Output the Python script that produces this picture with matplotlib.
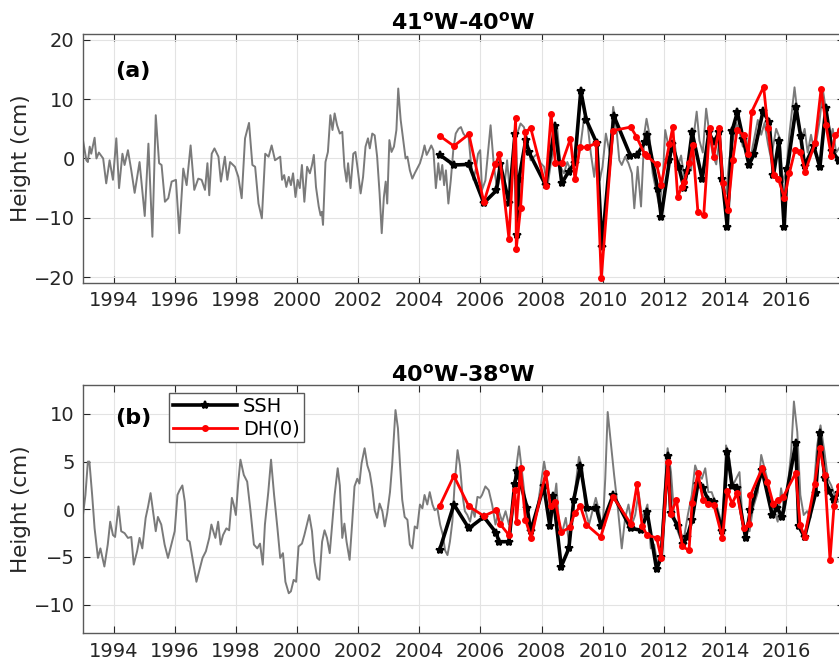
import matplotlib
matplotlib.use("Agg")
import matplotlib.pyplot as plt

plt.rcParams["font.family"] = ["DejaVu Sans"]
plt.rcParams["mathtext.fontset"] = "dejavusans"

# ---------------- panel (a) 41W-40W ----------------
alt_a_t = [1993.00, 1993.11, 1993.16, 1993.22, 1993.27, 1993.38, 1993.44, 1993.52, 1993.66, 1993.76,
           1993.87, 1993.98, 1994.09, 1994.18, 1994.29, 1994.36, 1994.47, 1994.58, 1994.69, 1994.85,
           1995.02, 1995.14, 1995.27, 1995.38, 1995.49, 1995.57, 1995.68, 1995.79, 1995.90, 1996.04,
           1996.15, 1996.28, 1996.39, 1996.52, 1996.64, 1996.77, 1996.88, 1996.99, 1997.07, 1997.13,
           1997.21, 1997.30, 1997.43, 1997.51, 1997.64, 1997.72, 1997.81, 1997.97, 1998.08, 1998.19,
           1998.30, 1998.43, 1998.54, 1998.63, 1998.74, 1998.85, 1998.96, 1999.07, 1999.17, 1999.28,
           1999.45, 1999.51, 1999.58, 1999.65, 1999.73, 1999.80, 1999.87, 1999.95, 2000.02, 2000.09,
           2000.16, 2000.24, 2000.33, 2000.42, 2000.49, 2000.55, 2000.62, 2000.71, 2000.77, 2000.81,
           2000.85, 2000.93, 2001.01, 2001.09, 2001.16, 2001.23, 2001.31, 2001.40, 2001.48, 2001.55,
           2001.62, 2001.67, 2001.75, 2001.84, 2001.91, 2001.99, 2002.08, 2002.16, 2002.24, 2002.32,
           2002.38, 2002.46, 2002.54, 2002.62, 2002.70, 2002.77, 2002.84, 2002.90, 2002.95, 2003.02,
           2003.09, 2003.17, 2003.25, 2003.31, 2003.39, 2003.46, 2003.55, 2003.61, 2003.69, 2003.77,
           2003.85, 2003.93, 2004.02, 2004.10, 2004.17, 2004.24, 2004.32, 2004.39, 2004.46, 2004.54,
           2004.62, 2004.68, 2004.75, 2004.81, 2004.87, 2004.95, 2005.03, 2005.11, 2005.19, 2005.28,
           2005.36, 2005.44, 2005.52, 2005.60, 2005.68, 2005.77, 2005.85, 2005.92, 2005.99,
           2006.05, 2006.16, 2006.33, 2006.44, 2006.55, 2006.66, 2006.77, 2006.87, 2006.98, 2007.09,
           2007.20, 2007.31, 2007.42, 2007.53, 2007.64, 2007.75, 2007.86, 2007.97, 2008.08, 2008.19,
           2008.30, 2008.40, 2008.51, 2008.62, 2008.73, 2008.84, 2008.95, 2009.06, 2009.17, 2009.28,
           2009.39, 2009.50, 2009.61, 2009.72, 2009.83, 2009.90, 2009.99, 2010.10, 2010.23, 2010.34,
           2010.45, 2010.54, 2010.62, 2010.73, 2010.84, 2010.95, 2011.03, 2011.14, 2011.25, 2011.36,
           2011.43, 2011.52, 2011.63, 2011.74, 2011.85, 2011.96, 2012.04,
           2012.12, 2012.23, 2012.34, 2012.45, 2012.56, 2012.67, 2012.78, 2012.89, 2013.00, 2013.07,
           2013.16, 2013.27, 2013.38, 2013.49, 2013.60, 2013.71, 2013.81, 2013.92, 2014.03, 2014.14,
           2014.25, 2014.36, 2014.47, 2014.58, 2014.69, 2014.80, 2014.90, 2015.07, 2015.18, 2015.29,
           2015.40, 2015.50, 2015.67, 2015.78, 2015.89, 2016.00, 2016.10, 2016.27, 2016.38, 2016.49,
           2016.60, 2016.70, 2016.81, 2016.92, 2017.08, 2017.20, 2017.30, 2017.41, 2017.52, 2017.63,
           2017.76]
alt_a = [3.1, -0.3, -0.6, 2.0, 0.8, 3.5, 0.0, 1.0, 0.0, -4.2,
         -0.3, -3.6, 3.4, -5.0, 0.8, -1.1, 1.4, -2.0, -5.8, -0.6,
         -9.7, 2.5, -13.2, 7.3, -0.8, -1.1, -7.3, -6.7, -3.9, -3.6,
         -12.6, -1.7, -4.5, 2.2, -5.3, -3.4, -3.6, -5.3, -0.8, -6.2,
         0.8, 1.7, 0.3, -3.9, 0.3, -3.6, -0.6, -1.4, -3.1, -6.7,
         3.4, 6.0, -1.1, -1.4, -7.6, -10.1, 0.8, 0.3, 2.2, -0.3,
         0.3, -3.6, -2.8, -4.8, -3.1, -4.5, -2.5, -6.5, -3.6, -5.0,
         -1.1, -7.3, -1.4, -2.5, -1.1, 0.6, -4.8, -8.1, -9.6, -9.0,
         -11.2, -0.6, 1.1, 7.3, 4.8, 7.6, 5.6, 4.2, 4.5, -1.4,
         -3.9, -0.8, -5.0, 0.8, 1.1, -2.0, -5.9, -3.1, 2.0, 3.4,
         1.7, 4.2, 3.9, 0.3, -5.9, -12.6, -6.5, -3.9, -7.6, 3.1,
         1.1, 2.0, 4.8, 11.8, 6.5, 3.7, 0.0, 0.3, -2.0, -3.4,
         -2.5, -1.7, -0.8, 0.6, 2.2, 0.6, 1.4, 2.2, 1.4, -5.0,
         -0.8, -3.6, -1.1, -4.5, -2.0, -7.6, -3.6, 1.4, 4.2, 5.0,
         5.3, 4.2, 3.7, 4.2, -0.3, -3.6, -1.7, 0.8, 1.4,
         -5.3, -3.7, 5.6, -1.4, -5.3, -2.5, -5.3, -0.3, -7.0, 2.5,
         4.2, 5.9, 5.3, 3.1, -0.3, 0.3, 0.8, -0.8, -1.4, -4.8,
         -0.8, 1.4, 5.1, -1.4, -2.5, -0.6, -2.0, 0.3, -0.8, 2.5,
         7.0, 5.9, 0.8, -3.1, 2.5, -3.7, -1.4, 4.2, 0.8, 8.7,
         4.8, -0.3, -1.1, 0.3, -0.8, -2.5, -8.4, -1.4, -8.1, 4.2,
         6.7, 4.2, -2.5, -5.3, -8.1, -3.7, 4.8,
         2.8, 1.0, 3.0, -1.5, 0.5, -3.5, -1.0, -2.0, 5.0, 7.9,
         3.0, 1.0, 8.4, 4.0, 0.5, -1.0, 3.0, -5.0, -6.0, 0.0,
         3.0, 6.0, 4.5, 2.0, 3.5, -1.0, 2.0, 6.5, 4.0, 6.0,
         2.5, 0.0, 5.0, 3.5, -4.0, -2.0, 4.0, 12.0, 7.0, 3.0,
         5.0, 1.0, 4.0, 1.0, 6.0, 11.5, 8.0, 3.0, 5.0, 1.0,
         2.0]

ssh_a_t = [2004.67, 2005.13, 2005.62, 2006.11, 2006.52, 2006.65, 2006.93, 2007.13, 2007.20, 2007.26,
           2007.48, 2007.58, 2008.13, 2008.43, 2008.66, 2008.88, 2009.08, 2009.28, 2009.46, 2009.80,
           2009.97, 2010.36, 2010.90, 2011.12, 2011.37, 2011.46, 2011.80, 2011.91, 2012.18, 2012.26,
           2012.49, 2012.65, 2012.76, 2012.92, 2013.25, 2013.47, 2013.63, 2013.80, 2013.91, 2014.07,
           2014.23, 2014.40, 2014.59, 2014.78, 2014.94, 2015.24, 2015.44, 2015.58, 2015.76, 2015.93,
           2016.03, 2016.32, 2016.47, 2016.60, 2016.90, 2017.10, 2017.29, 2017.50, 2017.72]
ssh_a = [0.6, -1.1, -1.0, -7.5, -5.4, -1.0, -7.5, 4.2, -12.9, -3.4,
         3.1, 1.1, -4.5, 5.4, -4.2, -2.2, -0.8, 11.4, 6.5, 2.6,
         -15.0, 7.2, 0.5, 0.6, 2.7, 3.9, -5.2, -9.8, -0.3, 2.5,
         -1.5, -4.9, -2.1, 4.4, -3.5, 4.4, 2.7, 4.4, -3.5, -11.5,
         4.7, 7.8, 3.3, -1.1, 0.7, 8.0, 6.1, -2.8, 3.0, -11.5,
         -1.8, 8.6, 3.8, -1.2, 2.1, -1.5, 8.5, 1.3, -0.4]

dh_a_t = [2004.67, 2005.13, 2005.62, 2006.11, 2006.49, 2006.62, 2006.93, 2007.15, 2007.17, 2007.31,
          2007.47, 2007.64, 2008.13, 2008.31, 2008.45, 2008.67, 2008.94, 2009.09, 2009.25, 2009.49,
          2009.78, 2009.95, 2010.33, 2010.91, 2011.10, 2011.37, 2011.45, 2011.76, 2011.91, 2012.18,
          2012.29, 2012.45, 2012.58, 2012.67, 2012.83, 2012.94, 2013.11, 2013.30, 2013.49, 2013.63,
          2013.81, 2013.92, 2014.09, 2014.25, 2014.39, 2014.61, 2014.76, 2014.87, 2015.26, 2015.40,
          2015.59, 2015.74, 2015.94, 2016.10, 2016.29, 2016.46, 2016.62, 2016.94, 2017.14, 2017.30,
          2017.47, 2017.60, 2017.76]
dh_a = [3.8, 2.1, 4.1, -7.4, -1.0, 0.7, -13.5, 6.9, -15.2, -8.4,
        4.4, 5.2, -4.7, 7.5, -0.8, -0.7, 3.3, -3.5, 1.9, 1.9,
        2.6, -20.2, 4.7, 5.3, 3.7, 0.7, 0.4, -1.0, -4.4, 2.5,
        5.3, -6.5, -4.8, -3.9, -0.8, 2.2, -9.0, -9.6, 5.1, 0.3,
        5.2, -4.2, -8.7, -0.3, 4.8, 3.9, 0.8, 7.9, 12.1, 5.1,
        -2.8, -3.4, -6.7, -2.5, 1.5, 1.1, -2.2, 2.6, 11.8, 5.6,
        0.4, 3.9, 4.8]

# ---------------- panel (b) 40W-38W ----------------
alt_b_t = [1993.00, 1993.08, 1993.16, 1993.21, 1993.30, 1993.38, 1993.49, 1993.57, 1993.70, 1993.81,
           1993.89, 1993.98, 1994.05, 1994.16, 1994.25, 1994.36, 1994.47, 1994.58, 1994.66, 1994.77,
           1994.85, 1994.94, 1995.05, 1995.13, 1995.21, 1995.29, 1995.38, 1995.45, 1995.56, 1995.67,
           1995.78, 1995.89, 1996.00, 1996.09, 1996.16, 1996.25, 1996.33, 1996.41, 1996.49, 1996.60,
           1996.71, 1996.82, 1996.91, 1997.02, 1997.13, 1997.20, 1997.28, 1997.33, 1997.42, 1997.50,
           1997.58, 1997.69, 1997.78, 1997.87, 1997.93, 1998.00, 1998.08, 1998.15, 1998.26, 1998.37,
           1998.48, 1998.59, 1998.70, 1998.79, 1998.88, 1998.95, 1999.06, 1999.15, 1999.25, 1999.36,
           1999.45, 1999.54, 1999.62, 1999.73, 1999.80, 1999.89, 1999.97, 2000.05, 2000.16, 2000.24,
           2000.33, 2000.40, 2000.49, 2000.57, 2000.66, 2000.73, 2000.82, 2000.90, 2000.98, 2001.07,
           2001.15, 2001.23, 2001.33, 2001.40, 2001.48, 2001.55, 2001.62, 2001.72, 2001.80, 2001.88,
           2001.97, 2002.04, 2002.11, 2002.21, 2002.30, 2002.38, 2002.46, 2002.54, 2002.62, 2002.70,
           2002.79, 2002.87, 2002.95, 2003.04, 2003.11, 2003.22, 2003.30, 2003.37, 2003.44, 2003.52,
           2003.61, 2003.69, 2003.77, 2003.85, 2003.93, 2004.02, 2004.10, 2004.17, 2004.26, 2004.34,
           2004.43, 2004.50, 2004.59, 2004.68, 2004.77, 2004.84, 2004.92, 2005.00, 2005.08, 2005.16,
           2005.25, 2005.33, 2005.41, 2005.49, 2005.57, 2005.66, 2005.74, 2005.81, 2005.90, 2005.99,
           2006.05, 2006.16, 2006.27, 2006.38, 2006.49, 2006.60, 2006.71, 2006.82, 2006.93, 2007.04,
           2007.15, 2007.26, 2007.37, 2007.48, 2007.58, 2007.69, 2007.80, 2007.91, 2008.08, 2008.19,
           2008.30, 2008.40, 2008.48, 2008.57, 2008.68, 2008.79, 2008.90, 2009.01, 2009.11, 2009.22,
           2009.33, 2009.44, 2009.55, 2009.66, 2009.77, 2009.88, 2009.99, 2010.08, 2010.16, 2010.26,
           2010.37, 2010.48, 2010.62, 2010.73, 2010.84, 2010.95, 2011.06, 2011.17, 2011.28, 2011.39,
           2011.46, 2011.57, 2011.68, 2011.79, 2011.90, 2012.01,
           2012.12, 2012.23, 2012.34, 2012.45, 2012.58, 2012.67, 2012.78, 2012.91, 2013.02, 2013.13,
           2013.24, 2013.35, 2013.45, 2013.56, 2013.67, 2013.78, 2013.92, 2014.03, 2014.14, 2014.25,
           2014.36, 2014.47, 2014.58, 2014.69, 2014.80, 2014.91, 2015.07, 2015.18, 2015.29, 2015.40,
           2015.50, 2015.61, 2015.72, 2015.83, 2015.94, 2016.05, 2016.16, 2016.25, 2016.36, 2016.46,
           2016.57, 2016.68, 2016.79, 2016.90, 2017.01, 2017.12, 2017.25, 2017.36, 2017.47, 2017.58,
           2017.69]
alt_b = [-0.6, 1.5, 5.0, 5.0, 1.5, -2.0, -5.1, -4.1, -6.0, -3.7,
         -1.3, -2.7, -2.9, 0.3, -2.3, -2.5, -3.0, -2.9, -5.8, -4.4,
         -3.0, -4.1, -0.9, 0.3, 1.7, -0.2, -2.3, -0.8, -1.6, -3.7,
         -5.1, -3.7, -2.3, 1.5, 2.0, 2.5, 0.8, -3.2, -3.4, -5.5,
         -7.6, -6.2, -5.1, -4.4, -3.0, -1.6, -2.5, -3.0, -1.3, -3.7,
         -2.7, -2.0, -2.2, 1.2, 0.5, -0.6, 2.9, 5.2, 3.6, 2.9,
         -0.2, -3.7, -4.1, -3.6, -5.8, -1.6, 1.8, 5.2, 1.5, -2.0,
         -5.1, -4.6, -7.6, -8.8, -8.6, -7.4, -7.6, -3.9, -3.6, -2.7,
         -1.5, -0.6, -2.3, -5.5, -7.2, -7.4, -3.4, -2.2, -3.0, -4.6,
         -1.6, 1.5, 4.3, 2.5, -3.0, -1.5, -3.4, -5.3, -1.6, 2.4,
         3.2, 2.7, 4.8, 6.4, 4.6, 3.8, 2.2, -0.1, -0.9, 0.6,
         -0.2, -1.8, -0.4, 1.8, 4.6, 10.4, 8.5, 4.6, 1.0, -0.8,
         -1.1, -3.7, -4.1, -1.8, -2.0, 0.5, 0.1, 1.5, 0.5, 1.8,
         0.5, -0.1, 0.1, -1.6, -2.7, -4.3, -4.8, -3.4, -1.3, 2.9,
         6.2, 4.6, 1.5, -0.2, -0.6, -1.3, 0.1, -0.8, 1.3, 1.2,
         1.5, 2.4, 2.0, 0.5, -1.6, -0.2, -1.3, -0.2, -1.6, -0.6,
         3.9, 6.6, 3.6, 0.5, -1.6, -2.7, -0.9, 1.2, 5.0, 2.9,
         -0.9, 0.8, 2.7, -1.6, -2.3, -0.9, -3.7, -0.9, 2.5, 5.5,
         4.3, -0.2, -1.6, -0.2, 1.2, -0.2, -2.3, 3.2, 10.2, 7.1,
         3.6, 0.5, -4.1, -0.9, 0.5, -1.6, -0.6, 1.8, -0.9, -0.2,
         0.5, -4.1, -3.7, -5.8, -4.4, 1.5,
         6.4, 3.9, -0.9, -2.3, -3.4, -2.7, -0.6, 1.5, 4.6, 3.6,
         3.2, 4.3, 1.8, 1.8, 0.8, -0.2, -2.0, 6.7, 5.3, 2.5,
         3.2, 3.9, -1.6, -2.0, -2.3, 0.1, 1.8, 5.7, 4.3, 2.9,
         0.5, -0.2, -1.3, 2.2, -0.2, 2.5, 6.0, 11.3, 8.1, 1.5,
         -0.6, -0.2, -0.9, 2.2, 6.7, 8.8, 6.0, 3.2, 2.5, 1.5,
         0.8]

ssh_b_t = [2004.66, 2005.13, 2005.62, 2006.11, 2006.52, 2006.60, 2006.93, 2007.12, 2007.20, 2007.53,
           2007.64, 2008.07, 2008.27, 2008.38, 2008.64, 2008.89, 2009.05, 2009.27, 2009.49, 2009.79,
           2009.95, 2010.34, 2010.91, 2011.26, 2011.45, 2011.76, 2011.91, 2012.13, 2012.22, 2012.46,
           2012.63, 2012.76, 2012.92, 2013.11, 2013.28, 2013.44, 2013.63, 2013.91, 2014.07, 2014.23,
           2014.39, 2014.67, 2014.83, 2015.21, 2015.54, 2015.71, 2015.87, 2016.31, 2016.41, 2016.60,
           2016.96, 2017.10, 2017.26, 2017.40, 2017.56, 2017.72]
ssh_b = [-4.3, 0.5, -2.0, -0.8, -2.5, -3.4, -3.4, 2.7, 4.0, 0.1,
         -2.3, 2.4, -1.8, 1.4, -6.0, -4.1, 1.0, 4.5, 0.1, 0.1,
         -1.8, 1.5, -2.0, -2.2, -0.3, -6.3, -5.0, 5.6, -0.4, -1.8,
         -3.6, -2.9, -1.1, 2.7, 2.2, 1.0, 0.8, -2.3, 6.0, 2.4,
         2.2, -3.0, -0.1, 4.1, -0.6, 0.1, -0.8, 6.9, -1.8, -2.9,
         1.7, 8.0, 3.3, 1.9, 1.0, 1.7]

dh_b_t = [2004.66, 2005.13, 2005.62, 2006.11, 2006.52, 2006.63, 2006.93, 2007.12, 2007.18, 2007.31,
          2007.47, 2007.66, 2008.13, 2008.29, 2008.45, 2008.64, 2008.92, 2009.08, 2009.27, 2009.46,
          2009.93, 2010.34, 2010.91, 2011.12, 2011.29, 2011.45, 2011.76, 2011.91, 2012.13, 2012.22,
          2012.41, 2012.60, 2012.82, 2012.92, 2013.11, 2013.28, 2013.44, 2013.63, 2013.91, 2014.07,
          2014.23, 2014.39, 2014.61, 2014.78, 2014.83, 2015.21, 2015.38, 2015.57, 2015.73, 2015.90,
          2016.31, 2016.45, 2016.60, 2016.93, 2017.10, 2017.26, 2017.43, 2017.56, 2017.72]
dh_b = [0.3, 3.5, 0.3, -0.7, -0.1, -1.5, -2.7, 2.0, -1.3, 4.3,
        -1.1, -3.0, 3.8, 0.3, 0.8, -2.4, -1.9, -0.4, 0.3, -1.6,
        -2.9, 1.3, -1.5, 2.6, -1.8, -2.7, -3.0, -5.1, 5.0, -0.5,
        1.0, -3.9, -4.3, 0.7, 3.8, 1.0, 0.6, 0.5, -3.0, 1.9,
        0.6, 1.7, -2.0, -1.5, 1.5, 4.3, 2.9, 0.6, 1.0, 1.3,
        3.8, -1.6, -2.9, 2.7, 6.4, 3.6, -5.3, 0.3, 2.4]

panels = [
    dict(alt_t=alt_a_t, alt=alt_a, ssh_t=ssh_a_t, ssh=ssh_a, dh_t=dh_a_t, dh=dh_a,
         title="41$^{\\mathbf{o}}$W-40$^{\\mathbf{o}}$W", tag="(a)",
         ylim=(-21, 21), yticks=[-20, -10, 0, 10, 20],
         pos=[0.0989, 0.5751, 0.9075, 0.3739], tag_y=0.85),
    dict(alt_t=alt_b_t, alt=alt_b, ssh_t=ssh_b_t, ssh=ssh_b, dh_t=dh_b_t, dh=dh_b,
         title="40$^{\\mathbf{o}}$W-38$^{\\mathbf{o}}$W", tag="(b)",
         ylim=(-13, 13), yticks=[-10, -5, 0, 5, 10],
         pos=[0.0989, 0.0491, 0.9075, 0.3724], tag_y=0.87),
]

fig = plt.figure(figsize=(8.39, 6.66), dpi=100)

for i, p in enumerate(panels):
    ax = fig.add_axes(p["pos"])
    ax.plot(p["alt_t"], p["alt"], color="#7a7a7a", lw=1.4, zorder=2)
    l1, = ax.plot(p["ssh_t"], p["ssh"], color="black", lw=2.6, marker="*",
                  ms=6, mew=1.5, zorder=3, label="SSH")
    l2, = ax.plot(p["dh_t"], p["dh"], color="red", lw=2.0, marker="o",
                  ms=4, zorder=4, label="DH(0)")

    ax.set_xlim(1993, 2017.9)
    ax.set_ylim(*p["ylim"])
    ax.set_xticks(range(1994, 2017, 2))
    ax.set_yticks(p["yticks"])
    ax.grid(True, color="#e3e3e3", lw=0.8)
    ax.set_axisbelow(True)
    ax.tick_params(direction="in", length=5, top=True, right=True,
                   labelsize=14, colors="#262626", pad=6)
    for s in ax.spines.values():
        s.set_color("#5a5a5a")
        s.set_linewidth(1.0)
    ax.set_ylabel("Height (cm)", fontsize=15.5, color="#262626", labelpad=2)
    ax.set_title(p["title"], fontsize=16, fontweight="bold", pad=3)
    ax.text(0.042, p["tag_y"], p["tag"], transform=ax.transAxes,
            fontsize=16, fontweight="bold", va="center", ha="left")

    if i == 1:
        ax.legend(handles=[l1, l2], loc="upper left", bbox_to_anchor=(0.113, 0.97),
                  fontsize=14, handlelength=3.3, handletextpad=0.3,
                  borderpad=0.2, labelspacing=0.2, fancybox=False,
                  edgecolor="#5a5a5a", framealpha=1, borderaxespad=0)

fig.savefig("out.png", dpi=100)
